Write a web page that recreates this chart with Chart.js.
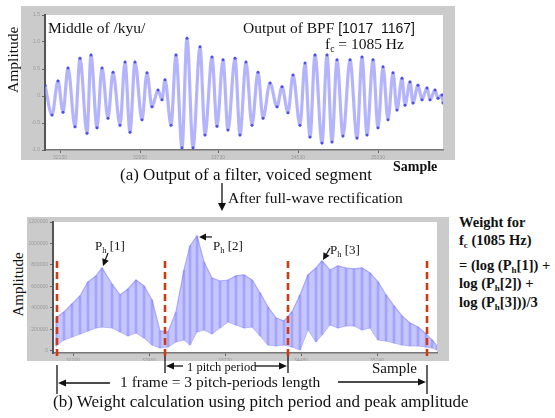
<!DOCTYPE html>
<html>
<head>
<meta charset="utf-8">
<script src="https://cdn.jsdelivr.net/npm/chart.js@4.4.1/dist/chart.umd.min.js"></script>
<style>
    body { margin: 0; width: 555px; height: 418px; position: relative; overflow: hidden; background: #fff;
           font-family: "Liberation Serif", "Times New Roman", serif; color: #111; }
    .frame { position: absolute; background: #cbcbcb; }
    .t { position: absolute; white-space: nowrap; line-height: 1; }
    .b { font-weight: bold; }
    .s { font-size: 0.62em; position: relative; top: 0.3em; }
    .rot { position: absolute; width: 90px; text-align: center; line-height: 1; transform: rotate(-90deg); }
    svg { position: absolute; left: 0; top: 0; }
</style>
</head>
<body>

<div class="frame" style="left:21px;top:6px;width:434px;height:154px"><canvas id="chartTop" width="434" height="154"></canvas></div>
<div class="frame" style="left:27px;top:217px;width:422px;height:144px"><canvas id="chartBottom" width="422" height="144"></canvas></div>

<!-- panel (a) texts -->
<div class="rot" style="left:-32px;top:52px;font-size:15.5px">Amplitude</div>
<div class="t" style="left:48px;top:20px;font-size:15.5px">Middle of /kyu/</div>
<div class="t" style="left:243px;top:20px;font-size:15.5px">Output of BPF <span style="font-family:'Liberation Sans',Arial,sans-serif;font-size:14px">[1017&nbsp;&nbsp;1167]</span></div>
<div class="t" style="left:325px;top:36px;font-size:15.5px">f<span class="s">c</span> = 1085 Hz</div>
<div class="t b" style="left:393px;top:160px;font-size:14px">Sample</div>
<div class="t" style="left:120px;top:166px;font-size:17px">(a) Output of a filter, voiced segment</div>
<div class="t" style="left:228px;top:190px;font-size:15.5px">After full-wave rectification</div>

<!-- panel (b) texts -->
<div class="rot" style="left:-27px;top:277px;font-size:15px">Amplitude</div>
<div class="t b" style="left:459px;top:215px;font-size:14.5px">Weight for</div>
<div class="t b" style="left:459px;top:233px;font-size:14.5px">f<span class="s">c</span> (1085 Hz)</div>
<div class="t b" style="left:459px;top:258px;font-size:14.5px">= (log (P<span class="s">h</span>[1]) +</div>
<div class="t b" style="left:459px;top:276px;font-size:14.5px">log (P<span class="s">h</span>[2]) +</div>
<div class="t b" style="left:459px;top:295px;font-size:14.5px">log (P<span class="s">h</span>[3]))/3</div>
<div class="t" style="left:187px;top:361px;font-size:12.5px">1 pitch period</div>
<div class="t" style="left:120px;top:374px;font-size:15.5px">1 frame = 3 pitch-periods length</div>
<div class="t" style="left:372px;top:361px;font-size:15px">Sample</div>
<div class="t" style="left:53px;top:393px;font-size:17px">(b) Weight calculation using pitch period and peak amplitude</div>

<svg width="555" height="418">
    <g stroke="#111" stroke-width="1.3" fill="#111">
        <line x1="222" y1="183" x2="222" y2="205"/>
        <polygon points="218,203 226,203 222,211" stroke="none"/>
        <!-- 1 pitch period -->
        <line x1="165" y1="356" x2="165" y2="373"/>
        <line x1="171" y1="366" x2="183" y2="366"/>
        <polygon points="166,366 174,362.5 174,369.5" stroke="none"/>
        <line x1="255" y1="366" x2="282" y2="366"/>
        <polygon points="287,366 279,362.5 279,369.5" stroke="none"/>
        <line x1="288" y1="356" x2="288" y2="373"/>
        <!-- 1 frame -->
        <line x1="57" y1="365" x2="57" y2="394"/>
        <line x1="63" y1="383" x2="110" y2="383"/>
        <polygon points="58,383 66,379.5 66,386.5" stroke="none"/>
        <line x1="338" y1="382" x2="421" y2="382"/>
        <polygon points="426,382 418,378.5 418,385.5" stroke="none"/>
        <line x1="427" y1="365" x2="427" y2="394"/>
    </g>
</svg>

<script>
// ---- panel (a): band-pass filter output, sample vs amplitude (x10^4) ----
const topSample = [0, 7, 13, 18, 23, 30, 35, 42, 46, 52,
    57, 63, 68, 75, 80, 85, 90, 97, 102, 107,
    113, 117, 120, 126, 131, 137, 142, 148, 155, 160,
    167, 172, 178, 183, 190, 195, 201, 207, 213, 218,
    225, 232, 237, 243, 248, 255, 260, 265, 270, 277,
    282, 287, 292, 298, 305, 312, 317, 322, 328, 333,
    338, 343, 348, 352, 357, 360, 365, 368, 373, 377,
    382, 385, 390, 393, 397, 398];
const topAmp = [0.20, -0.35, 0.28, -0.30, 0.52, -0.57, 0.70, -0.69, 0.76, -0.59,
    0.52, -0.41, 0.44, -0.54, 0.63, -0.67, 0.63, -0.44, 0.43, -0.20,
    0.11, -0.07, 0.30, -0.54, 0.76, -0.96, 1.07, -0.96, 0.91, -0.72,
    0.72, -0.56, 0.67, -0.63, 0.70, -0.72, 0.63, -0.54, 0.44, -0.41,
    0.24, -0.20, 0.17, -0.31, 0.39, -0.54, 0.61, -0.76, 0.76, -0.87,
    0.76, -0.85, 0.67, -0.74, 0.67, -0.78, 0.72, -0.72, 0.67, -0.59,
    0.54, -0.44, 0.43, -0.26, 0.33, -0.17, 0.26, -0.13, 0.20, -0.07,
    0.15, -0.07, 0.11, -0.04, 0.02, -0.13];
const topXTicks = [15, 95, 173, 253, 333];

// ---- panel (b): rectified output, envelope of the band (x10^5) ----
const envSample = [3, 11, 19, 27, 35, 43, 49, 59, 67, 75,
    83, 91, 99, 107, 115, 123, 131, 137, 144, 151,
    159, 167, 175, 183, 191, 199, 207, 215, 223, 231,
    239, 247, 255, 263, 269, 277, 285, 293, 301, 309,
    317, 325, 333, 341, 349, 357, 365, 373, 379, 384];
const envUpper = [3.07, 3.63, 4.37, 5.12, 6.42, 6.98, 7.72, 6.23, 5.21, 5.77,
    6.60, 6.05, 4.74, 1.86, 1.77, 3.63, 7.53, 9.77, 10.70, 8.28,
    6.79, 6.51, 6.60, 6.98, 7.07, 6.60, 5.40, 4.09, 3.07, 2.79,
    3.63, 5.21, 7.07, 7.72, 8.37, 7.53, 7.91, 7.72, 7.63, 7.72,
    7.26, 6.42, 5.21, 4.19, 3.26, 2.60, 2.23, 1.58, 1.02, 0.47];
const envLower = [0.47, 1.02, 1.30, 1.58, 1.86, 2.14, 2.23, 2.14, 1.77, 1.40,
    1.67, 1.21, 0.56, 0.28, 0.37, 0.84, 1.02, 0.56, 1.77, 1.95,
    1.58, 2.14, 2.70, 2.42, 2.14, 2.23, 1.40, 0.56, 0.47, 0.56,
    0.37, 0.09, 1.95, 0.84, 1.49, 2.42, 2.14, 2.33, 2.33, 1.95,
    2.14, 1.02, 0.93, 0.74, 0.56, 0.47, 0.47, 0.37, 0.28, 0.09];
const bottomXTicks = [20, 96, 172, 248, 324];
// pitch period boundaries (red dashed lines) and their extent
const pitchMarks = [4, 112, 235, 374];
const pitchMarkRange = [-0.47, 8.65];

const FONT = '"Liberation Serif", "Times New Roman", serif';

// white plot area on the grey frame
const whiteArea = {
    id: 'whiteArea',
    beforeDraw(chart) {
        const a = chart.chartArea, ctx = chart.ctx;
        ctx.save();
        ctx.fillStyle = '#fff';
        ctx.fillRect(a.left, a.top, a.right - a.left, a.bottom - a.top);
        ctx.restore();
    }
};

function arrow(ctx, x0, y0, x1, y1) {
    const ang = Math.atan2(y1 - y0, x1 - x0);
    ctx.beginPath(); ctx.moveTo(x0, y0);
    ctx.lineTo(x1 - 5 * Math.cos(ang), y1 - 5 * Math.sin(ang)); ctx.stroke();
    ctx.beginPath();
    ctx.moveTo(x1, y1);
    ctx.lineTo(x1 - 7 * Math.cos(ang) + 3.5 * Math.sin(ang), y1 - 7 * Math.sin(ang) - 3.5 * Math.cos(ang));
    ctx.lineTo(x1 - 7 * Math.cos(ang) - 3.5 * Math.sin(ang), y1 - 7 * Math.sin(ang) + 3.5 * Math.cos(ang));
    ctx.closePath(); ctx.fill();
}

// P_h[k] = highest point of the band inside each pitch period
const peakLabels = {
    id: 'peakLabels',
    afterDatasetsDraw(chart) {
        const xs = chart.scales.x, ys = chart.scales.y, ctx = chart.ctx;
        const place = [
            { tx: -7, ty: -18, a: [6, -15, 1, -2] },
            { tx: 16, ty: 14, a: [15, 1, 2, 1] },
            { tx: 8, ty: -7, a: [8, -13, 1, -1] }
        ];
        ctx.save();
        ctx.fillStyle = '#111'; ctx.strokeStyle = '#111'; ctx.lineWidth = 1.2;
        for (let k = 0; k < 3; k++) {
            let best = -1;
            envSample.forEach((s, i) => {
                if (s > pitchMarks[k] && s < pitchMarks[k + 1] && (best < 0 || envUpper[i] > envUpper[best])) best = i;
            });
            const px = xs.getPixelForValue(envSample[best]);
            const py = ys.getPixelForValue(envUpper[best]);
            const p = place[k];
            let x = px + p.tx, y = py + p.ty;
            ctx.font = '13px ' + FONT;
            ctx.fillText('P', x, y); x += ctx.measureText('P').width;
            ctx.font = '8.5px ' + FONT;
            ctx.fillText('h', x, y + 3); x += ctx.measureText('h').width;
            ctx.font = '13px ' + FONT;
            ctx.fillText(' [' + (k + 1) + ']', x, y);
            arrow(ctx, px + p.a[0], py + p.a[1], px + p.a[2], py + p.a[3]);
        }
        ctx.restore();
    }
};

const tinyTicks = { color: '#9a9a9a', font: { size: 5 }, padding: 2 };

new Chart(document.getElementById('chartTop'), {
    type: 'line',
    data: {
        datasets: [{
            data: topSample.map((s, i) => ({ x: s, y: topAmp[i] })),
            borderColor: 'rgba(140, 140, 250, 0.65)',
            borderWidth: 3.2,
            cubicInterpolationMode: 'monotone',
            pointRadius: 1.5,
            pointBorderWidth: 0,
            pointBackgroundColor: 'rgba(60, 60, 235, 0.85)'
        }]
    },
    options: {
        responsive: false,
        animation: false,
        layout: { padding: { left: 0, top: 9, right: 12, bottom: 0 }, autoPadding: false },
        plugins: { legend: { display: false }, tooltip: { enabled: false } },
        scales: {
            x: {
                type: 'linear', min: 0, max: 398,
                afterFit: s => { s.height = 10; },
                afterBuildTicks: s => { s.ticks = topXTicks.map(v => ({ value: v })); },
                ticks: { ...tinyTicks, maxRotation: 0, callback: v => String(32000 + v * 10) },
                grid: { drawOnChartArea: false, tickLength: 3, color: '#666' },
                border: { color: '#777', width: 1.5 }
            },
            y: {
                min: -1, max: 1.5,
                afterFit: s => { s.width = 24; },
                ticks: { ...tinyTicks, stepSize: 0.5 },
                grid: { drawOnChartArea: false, tickLength: 3, color: '#666' },
                border: { color: '#555', width: 2 }
            }
        }
    },
    plugins: [whiteArea]
});

const redLine = [];
pitchMarks.forEach(x => {
    redLine.push({ x, y: pitchMarkRange[0] }, { x, y: pitchMarkRange[1] }, { x, y: null });
});

new Chart(document.getElementById('chartBottom'), {
    type: 'line',
    data: {
        datasets: [
            {
                data: redLine, borderColor: '#cf3a12', borderWidth: 2.6, borderDash: [7, 4],
                pointRadius: 0, spanGaps: false, clip: false, order: 0
            },
            {
                type: 'bar',
                data: envSample.map((s, i) => ({ x: s, y: [envLower[i], envUpper[i]] })),
                backgroundColor: 'rgba(80, 80, 240, 0.28)',
                barThickness: 2, order: 1
            },
            {
                data: envSample.map((s, i) => ({ x: s, y: envLower[i] })),
                borderColor: 'rgba(170, 170, 255, 0.8)', borderWidth: 1,
                pointRadius: 0, fill: false, order: 3
            },
            {
                data: envSample.map((s, i) => ({ x: s, y: envUpper[i] })),
                borderColor: 'rgba(160, 160, 255, 0.9)', borderWidth: 1.2,
                backgroundColor: 'rgba(172, 172, 255, 0.7)',
                pointRadius: 0, fill: 2, order: 2
            }
        ]
    },
    options: {
        responsive: false,
        animation: false,
        layout: { padding: { left: 0, top: 5, right: 12, bottom: 0 }, autoPadding: false },
        plugins: { legend: { display: false }, tooltip: { enabled: false } },
        scales: {
            x: {
                type: 'linear', min: 0, max: 384, offset: false,
                afterFit: s => { s.height = 8; },
                afterBuildTicks: s => { s.ticks = bottomXTicks.map(v => ({ value: v })); },
                ticks: { ...tinyTicks, maxRotation: 0, callback: v => String(32000 + v * 10) },
                grid: { drawOnChartArea: false, tickLength: 3, color: '#666', offset: false },
                border: { color: '#777', width: 1.5 }
            },
            y: {
                min: -0.19, max: 12,
                afterFit: s => { s.width = 26; },
                ticks: { ...tinyTicks, stepSize: 2, includeBounds: false, callback: v => String(Math.round(v * 100000)) },
                grid: { drawOnChartArea: false, tickLength: 3, color: '#666' },
                border: { color: '#555', width: 2 }
            }
        }
    },
    plugins: [whiteArea, peakLabels]
});
</script>
</body>
</html>
